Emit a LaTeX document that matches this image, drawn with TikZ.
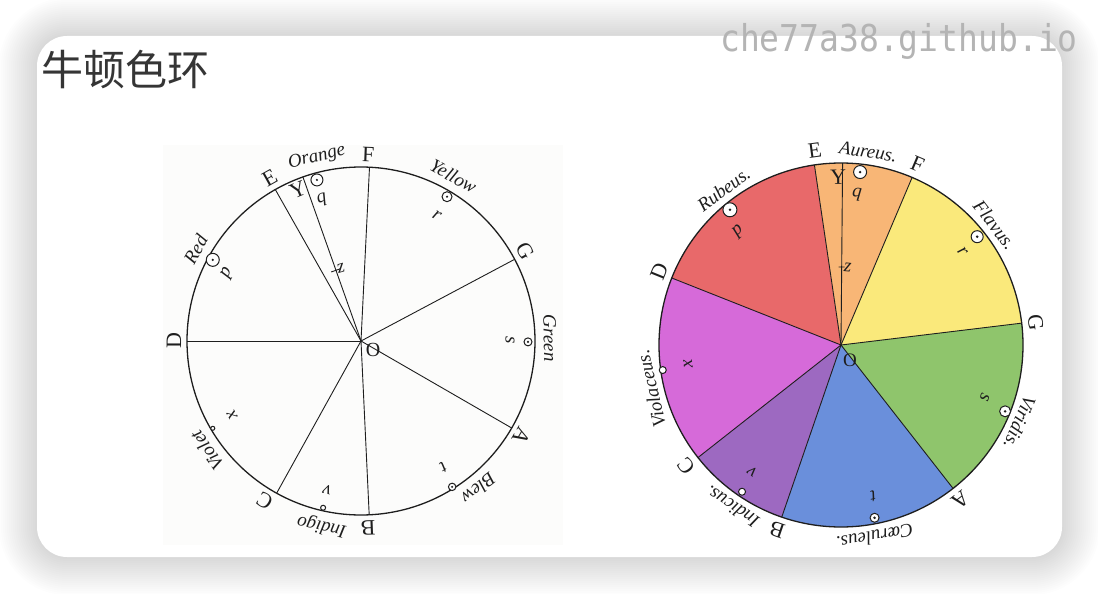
\documentclass[tikz,border=0pt]{standalone}
\usepackage{fontspec}
\newfontfamily\cjk{Noto Sans CJK SC}
\newfontfamily\markfont{DejaVu Sans Mono}
\newfontfamily\printfont{Liberation Serif}
\definecolor{ink}{HTML}{1E1E1E}
\definecolor{paper}{HTML}{FCFCFB}
\definecolor{titlegrey}{HTML}{353535}
\definecolor{markgrey}{HTML}{B4B4B4}
\definecolor{rubeus}{HTML}{E8696A}
\definecolor{aureus}{HTML}{F8B676}
\definecolor{flavus}{HTML}{FAE97B}
\definecolor{viridis}{HTML}{8FC56C}
\definecolor{caeruleus}{HTML}{6A8FDB}
\definecolor{indicus}{HTML}{9D69C1}
\definecolor{violaceus}{HTML}{D66AD9}
\tikzset{
  rim/.style={draw=ink,line width=1.3pt},
  spoke/.style={draw=ink,line width=0.9pt},
  letter/.style={text=ink,inner sep=0pt,font=\printfont\fontsize{22}{22}\selectfont},
  colname/.style={text=ink,inner sep=0pt,font=\printfont\itshape\fontsize{19}{19}\selectfont},
  ring/.style={draw=ink,line width=1pt,fill=white},
}

\begin{document}
\begin{tikzpicture}[x=1pt,y=1pt]
\useasboundingbox (0,0) rectangle (1098,-594);
\fill[white] (0,0) rectangle (1098,-594);
% the card and its soft shadow
\foreach \g [evaluate=\g as \cr using 30+\g] in {0,2,...,38}
  \fill[black,opacity=0.008,rounded corners=\cr pt] (37-\g,-36+\g) rectangle (1062+\g,-557-\g);
\fill[white,rounded corners=30pt] (37,-36) rectangle (1062,-557);
\node[anchor=west,text=titlegrey,inner sep=0pt,font=\cjk\fontsize{42}{42}\selectfont] (title) at (41,-69) {牛顿色环};
\node[text=markgrey,inner sep=0pt,yscale=1.12,font=\markfont\fontsize{33}{33}\selectfont] (site) at (899,-41) {che77a38.github.io};

% left: the old print
\fill[paper] (163,-145) rectangle (563,-545);
\begin{scope}[shift={(361,-341)}]
\coordinate (lO) at (0,0);
\foreach \n/\ang in {D/180,E/119.5,Y/109.5,F/87.2,G/28,A/-30,B/-87.3,C/-119}
  \coordinate (l\n) at (\ang:174);
\foreach \n in {D,E,Y,F,G,A,B,C}
  \draw[spoke] (lO) -- (l\n);
\draw[rim] (lO) circle (174);
% letters and colour names on the rim
\foreach \n/\ang in {E/119.2,F/87.8,G/28.7,A/-30.6,B/-87.8,C/-121,D/180}
  \node[letter,rotate=\ang-90] (l\n-t) at (\ang:187) {\n};
\foreach \lab/\ang in {Orange/103.5,Yellow/60.7,Green/0.9,Blew/-51.5,Indigo/-102,Violet/-144.6,Red/151}
  \node[colname,rotate=\ang-90] (l\lab) at (\ang:189) {\lab};
% centres of gravity
\foreach \ang/\rad/\sz in {151.3/169/6.5,105.3/167/6,59.2/168/5,-0.3/167/4,-58/172/3.7} {
  \draw[ring] (\ang:\rad) circle (\sz); \fill[ink] (\ang:\rad) circle (1.2);}
\foreach \ang/\rad/\sz in {-102.8/171/2.5,-149.5/172/2}
  \draw[ring] (\ang:\rad) circle (\sz);
\foreach \lab/\ang/\rad in {p/153/150,q/105.5/146,r/58.9/147,s/0.4/149,t/-57/151,v/-102.8/153,x/-150/149}
  \node[colname,rotate=\ang-90] (l\lab-t) at (\ang:\rad) {\lab};
\node[letter,rotate=22.6] (lY-t) at (112.6:164) {Y};
\draw[spoke] (109.5:75) ++(19.5:-5) -- ++(19.5:10);
\node[colname,rotate=16] (lz) at (105.5:75) {z};
\node[letter,font=\printfont\fontsize{20}{20}\selectfont] (lO-t) at (12,-9) {O};
\end{scope}

% right: the coloured wheel
\begin{scope}[shift={(841,-345)}]
\coordinate (rO) at (0,0);
\foreach \n/\ang in {D/158.4,E/98.4,Y/89.5,F/67,G/6.9,A/-52,B/-109,C/-141.8}
  \coordinate (r\n) at (\ang:182);
\foreach \col/\p/\q in {rubeus/158.4/98.4,aureus/98.4/67,flavus/67/6.9,viridis/6.9/-52,caeruleus/-52/-109,indicus/-109/-141.8,violaceus/-141.8/-201.6}
  \fill[\col] (rO) -- (\p:182) arc[start angle=\p,end angle=\q,radius=182] -- cycle;
\foreach \n in {D,E,Y,F,G,A,B,C}
  \draw[spoke] (rO) -- (r\n);
\draw[rim] (rO) circle (182);
% letters and Latin names on the rim
\foreach \n/\ang in {E/97.7,F/67,G/6.5,A/-52.5,B/-109,C/-142,D/158}
  \node[letter,rotate=\ang-90] (r\n-t) at (\ang:196) {\n};
\foreach \lab/\ang in {Aureus./82,Flavus./38,Viridis./-23.5,{C\oe ruleus.}/-80,Indicus./-124,Violaceus./-167,Rubeus./127}
  \node[colname,rotate=\ang-90] at (\ang:195) {\lab};
% centres of gravity
\foreach \ang/\rad/\sz in {129.4/175/7,83.7/174/6.5,38.5/174/6,-22/177/5.5,-79/176/4.5} {
  \draw[ring] (\ang:\rad) circle (\sz); \fill[ink] (\ang:\rad) circle (1.4);}
\foreach \ang/\rad/\sz in {-124/177/3.5,-172/180/3.5}
  \draw[ring] (\ang:\rad) circle (\sz);
\foreach \lab/\ang/\rad in {p/132/153,q/84/151,r/37.5/153,s/-20/153,t/-78/155,v/-125/155,x/-173/154}
  \node[colname,rotate=\ang-90] (r\lab-t) at (\ang:\rad) {\lab};
\node[letter,rotate=1] (rY-t) at (91:168) {Y};
\draw[spoke] (89.5:78) ++(-0.5:-3) -- ++(-0.5:6);
\node[colname,rotate=-5] (rz) at (85:78) {z};
\node[letter,font=\printfont\fontsize{19}{19}\selectfont] (rO-t) at (9,-15) {O};
\end{scope}
\end{tikzpicture}
\end{document}
